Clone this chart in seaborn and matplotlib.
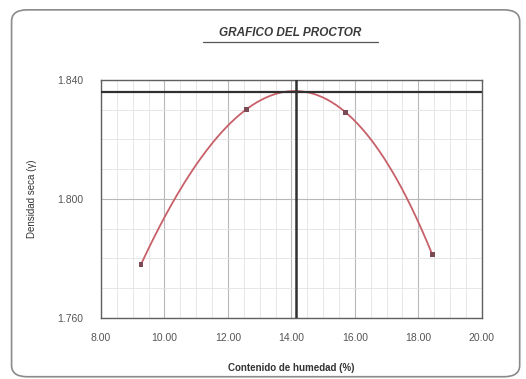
import numpy as np
import pandas as pd
import seaborn as sns
import matplotlib
matplotlib.use("Agg")
import matplotlib.pyplot as plt
from matplotlib.patches import FancyBboxPatch
from matplotlib.ticker import MultipleLocator, FormatStrFormatter

# Proctor test readings
humedad = [9.26, 12.59, 15.70, 18.44]          # moisture content (%)
densidad = [1.778, 1.8302, 1.8292, 1.7813]     # dry density
humedad_optima = 14.15
densidad_maxima = 1.836

x_ticks = [8, 10, 12, 14, 16, 18, 20]
y_ticks = [1.760, 1.800, 1.840]

sns.set_theme(style="white")
plt.rcParams["font.family"] = ["Liberation Sans", "DejaVu Sans"]

df = pd.DataFrame({"humedad": humedad, "densidad": densidad})

# polynomial trendline through the readings
coef = np.polyfit(df["humedad"], df["densidad"], 3)
xs = np.linspace(min(humedad), max(humedad), 200)
curve = pd.DataFrame({"humedad": xs, "densidad": np.polyval(coef, xs)})

fig = plt.figure(figsize=(5.26, 3.79), dpi=100)
fig.patch.set_facecolor("white")
border = FancyBboxPatch((0.022, 0.006), 0.966, 0.968, boxstyle="round,pad=0,rounding_size=0.03",
                        transform=fig.transFigure, fill=False, edgecolor="#8a8a8a", linewidth=1.2)
fig.patches.append(border)

ax = fig.add_axes([0.192, 0.161, 0.724, 0.628])

sns.lineplot(data=curve, x="humedad", y="densidad", ax=ax, color="#c8606a", linewidth=1.3)
sns.scatterplot(data=df, x="humedad", y="densidad", ax=ax, color="#7a4a55", marker="s",
                s=12, edgecolor="none", zorder=4)

ax.axhline(densidad_maxima, color="#303030", linewidth=1.6, zorder=3)
ax.axvline(humedad_optima, color="#303030", linewidth=1.8, zorder=3)

ax.set_xlim(8, 20)
ax.set_ylim(1.760, 1.840)
ax.set_xticks(x_ticks)
ax.set_yticks(y_ticks)
ax.xaxis.set_major_formatter(FormatStrFormatter("%.2f"))
ax.yaxis.set_major_formatter(FormatStrFormatter("%.3f"))
ax.xaxis.set_minor_locator(MultipleLocator(0.5))
ax.yaxis.set_minor_locator(MultipleLocator(0.01))
ax.grid(which="major", color="#b8b8b8", linewidth=0.8)
ax.grid(which="minor", color="#e2e2e2", linewidth=0.6)
ax.tick_params(axis="both", which="major", labelsize=7.5, colors="#555555", length=3)
ax.tick_params(axis="both", which="minor", length=0)
ax.tick_params(axis="x", pad=8)
ax.tick_params(axis="y", pad=10)
for s in ax.spines.values():
    s.set_color("#606060")
    s.set_linewidth(1.0)

ax.set_xlabel("Contenido de humedad (%)", fontsize=7, fontweight="bold", color="#333333", labelpad=14)
ax.set_ylabel("Densidad seca (γ)", fontsize=7, color="#333333", labelpad=14)

fig.text(0.552, 0.913, "GRAFICO DEL PROCTOR", ha="center", va="center", fontsize=8.5,
         fontstyle="italic", fontweight="bold", color="#3a3a3a")
fig.add_artist(plt.Line2D([0.386, 0.718], [0.889, 0.889], color="#555555", linewidth=0.9))

fig.savefig("out.png", dpi=100)
